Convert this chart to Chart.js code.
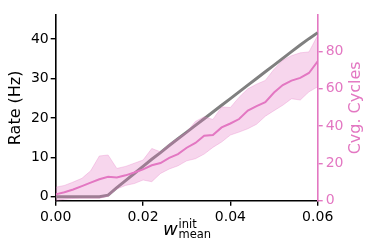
<!DOCTYPE html>
<html>
<head>
<meta charset="utf-8">
<script src="https://cdn.jsdelivr.net/npm/chart.js@4.4.1/dist/chart.umd.min.js"></script>
<style>
  html, body { margin: 0; padding: 0; background: #fff; }
</style>
</head>
<body>
<canvas id="chart" width="374" height="248"></canvas>
<script>
// x values (w_mean^init)
var wInit = [0.000, 0.002, 0.004, 0.006, 0.008, 0.010, 0.012, 0.014, 0.016, 0.018,
             0.020, 0.022, 0.024, 0.026, 0.028, 0.030, 0.032, 0.034, 0.036, 0.038,
             0.040, 0.042, 0.044, 0.046, 0.048, 0.050, 0.052, 0.054, 0.056, 0.058, 0.060];
// rate (Hz), left axis
var rateHz = [0, 0, 0, 0, 0, 0, 0.4, 2.3, 4.1, 5.9,
              7.7, 9.5, 11.2, 13.0, 14.7, 16.4, 18.1, 19.8, 21.5, 23.2,
              24.9, 26.6, 28.3, 30.0, 31.7, 33.4, 35.1, 36.8, 38.5, 40.1, 41.6];
// convergence cycles, right axis
var cycMean = [3.4, 4.5, 6.0, 7.8, 9.7, 11.5, 12.8, 12.4, 13.6, 15.1,
               16.8, 19.0, 20.2, 23.0, 25.0, 28.4, 31.0, 34.8, 35.2, 39.3,
               41.4, 43.8, 48.3, 50.7, 52.8, 58.0, 62.0, 64.4, 65.9, 68.5, 74.8];
var cycUpper = [7.2, 8.2, 10.0, 12.0, 16.0, 24.0, 24.5, 17.3, 18.4, 20.1,
                21.8, 28.0, 26.2, 30.3, 33.6, 36.8, 42.5, 45.0, 43.6, 50.3,
                50.0, 55.5, 60.0, 62.5, 64.5, 70.5, 75.3, 77.8, 79.3, 79.8, 88.7];
var cycLower = [0, 0.8, 1.2, 1.3, 1.3, 1.3, 2.4, 6.3, 8.2, 9.2,
                11.1, 10.2, 14.6, 17.0, 18.7, 21.4, 22.5, 25.0, 28.6, 31.5,
                35.2, 36.8, 38.6, 41.0, 45.3, 48.3, 51.2, 54.7, 54.0, 58.4, 61.1];
// tick labels
var xTicks = [0, 0.02, 0.04, 0.06];
var rateTicks = [0, 10, 20, 30, 40];
var cycTicks = [0, 20, 40, 60, 80];

var pink = "#e377c2";
var font = "DejaVu Sans";

function pts(ys) {
  return wInit.map(function (x, i) { return { x: x, y: ys[i] }; });
}

function fixTicks(values) {
  return function (scale) {
    scale.ticks = values.map(function (v) { return { value: v }; });
  };
}

// x axis label with super/subscript, right axis label read bottom-to-top
var titlesPlugin = {
  id: "titles",
  afterDraw: function (chart) {
    var ctx = chart.ctx;
    ctx.save();
    ctx.fillStyle = "#000";
    ctx.textBaseline = "alphabetic";
    ctx.textAlign = "left";
    ctx.font = "italic 18px '" + font + "'";
    ctx.fillText("w", 163, 235);
    ctx.font = "11.5px '" + font + "'";
    ctx.fillText("init", 178.5, 228);
    ctx.fillText("mean", 178.5, 238);

    var a = chart.chartArea;
    ctx.translate(356, (a.top + a.bottom) / 2);
    ctx.rotate(-Math.PI / 2);
    ctx.textAlign = "center";
    ctx.textBaseline = "middle";
    ctx.fillStyle = pink;
    ctx.font = "16px '" + font + "'";
    ctx.fillText("Cvg. Cycles", 0, 0);
    ctx.restore();
  }
};

var ctx = document.getElementById("chart").getContext("2d");
var chart = new Chart(ctx, {
  type: "line",
  data: {
    datasets: [
      {
        label: "rate",
        data: pts(rateHz),
        yAxisID: "y",
        borderColor: "rgb(128,128,128)",
        borderWidth: 3,
        pointRadius: 0,
        fill: false,
        order: 3
      },
      {
        label: "upper",
        data: pts(cycUpper),
        yAxisID: "y1",
        borderColor: "rgba(227,119,194,0.3)",
        borderWidth: 1,
        backgroundColor: "rgba(227,119,194,0.3)",
        pointRadius: 0,
        fill: "+1",
        order: 2
      },
      {
        label: "lower",
        data: pts(cycLower),
        yAxisID: "y1",
        borderColor: "rgba(227,119,194,0.3)",
        borderWidth: 1,
        pointRadius: 0,
        fill: false,
        order: 2
      },
      {
        label: "cycles",
        data: pts(cycMean),
        yAxisID: "y1",
        borderColor: pink,
        borderWidth: 2,
        pointRadius: 0,
        fill: false,
        order: 1
      }
    ]
  },
  options: {
    responsive: false,
    animation: false,
    devicePixelRatio: 1,
    layout: { padding: { top: 15, left: 0, right: 0, bottom: 0 } },
    plugins: {
      legend: { display: false },
      tooltip: { enabled: false }
    },
    scales: {
      x: {
        type: "linear",
        min: 0,
        max: 0.06,
        afterBuildTicks: fixTicks(xTicks),
        afterFit: function (scale) { scale.height = 47.3; },
        border: { display: true, color: "#000", width: 1.6 },
        grid: { display: true, drawOnChartArea: false, drawTicks: true, tickLength: 5, color: "#000", lineWidth: 1.4 },
        ticks: {
          color: "#000",
          padding: 3,
          maxRotation: 0,
          font: { family: font, size: 14 },
          callback: function (v) { return v.toFixed(2); }
        }
      },
      y: {
        type: "linear",
        position: "left",
        min: -1.0,
        max: 46.1,
        afterBuildTicks: fixTicks(rateTicks),
        afterFit: function (scale) { scale.width = 55.7; },
        border: { display: true, color: "#000", width: 1.6 },
        grid: { display: true, drawOnChartArea: false, drawTicks: true, tickLength: 5, color: "#000", lineWidth: 1.4 },
        ticks: { color: "#000", padding: 2, font: { family: font, size: 14 } },
        title: {
          display: true,
          text: "Rate (Hz)",
          color: "#000",
          font: { family: font, size: 16 },
          padding: { top: 6.4, bottom: 0 }
        }
      },
      y1: {
        type: "linear",
        position: "right",
        min: 0,
        max: 99.6,
        afterBuildTicks: fixTicks(cycTicks),
        afterFit: function (scale) { scale.width = 56.3; },
        border: { display: true, color: pink, width: 1.6 },
        grid: { display: true, drawOnChartArea: false, drawTicks: true, tickLength: 5, color: pink, lineWidth: 1.4 },
        ticks: { color: pink, padding: 3, font: { family: font, size: 14 } }
      }
    }
  },
  plugins: [titlesPlugin]
});
</script>
</body>
</html>
